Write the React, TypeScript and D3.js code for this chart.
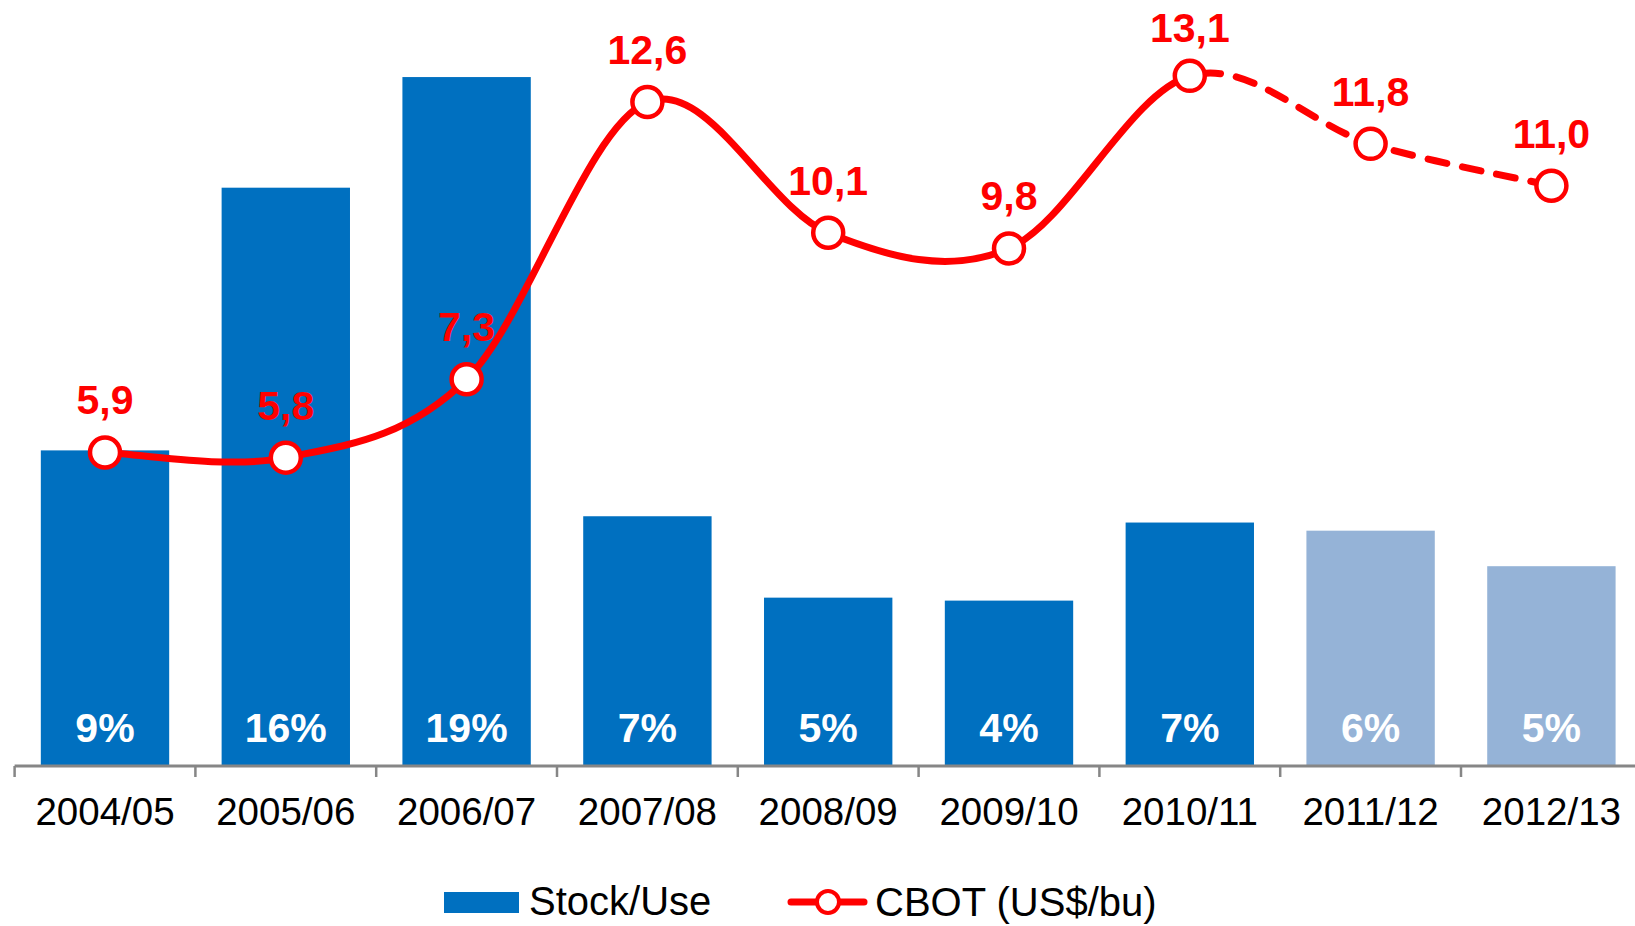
import React from "react";
import * as d3 from "d3";

const categories = ["2004/05", "2005/06", "2006/07", "2007/08", "2008/09", "2009/10", "2010/11", "2011/12", "2012/13"];
const stockUse = [8.53, 15.63, 18.62, 6.75, 4.55, 4.47, 6.58, 6.36, 5.4];
const cbot = [5.9, 5.8, 7.3, 12.6, 10.1, 9.8, 13.1, 11.8, 11.0];
const projected = [false, false, false, false, false, false, false, true, true];
const legendLabels = ["Stock/Use", "CBOT (US$/bu)"];

const W = 1635;
const H = 926;
const FONT = "'Liberation Sans', Arial, Helvetica, sans-serif";
const BLUE = "#0070C0";
const LIGHT = "#95B3D7";
const RED = "#FF0000";

export default function App() {
  const left = 14.6;
  const step = 180.8;
  const axisY = 766;

  const x = d3
    .scaleBand<string>()
    .domain(categories)
    .range([left, left + step * categories.length])
    .paddingInner(0.29)
    .paddingOuter(0.145);

  const yBar = d3.scaleLinear().domain([0, 20]).range([axisY, axisY - 20 * 37.0]);
  const yLine = d3.scaleLinear().domain([0, 14]).range([761, 761 - 14 * 52.3]);

  const cx = (i: number) => (x(categories[i]) as number) + x.bandwidth() / 2;
  const pts: [number, number][] = cbot.map((v, i) => [cx(i), yLine(v)]);

  // Catmull-Rom (cardinal, tension 0) segments, built from the full point list
  const segPath = (from: number, to: number) => {
    const p = d3.path();
    const n = pts.length;
    const P = (k: number) => pts[Math.max(0, Math.min(n - 1, k))];
    p.moveTo(pts[from][0], pts[from][1]);
    for (let i = from; i < to; i++) {
      const p0 = P(i - 1), p1 = P(i), p2 = P(i + 1), p3 = P(i + 2);
      p.bezierCurveTo(
        p1[0] + (p2[0] - p0[0]) / 6,
        p1[1] + (p2[1] - p0[1]) / 6,
        p2[0] - (p3[0] - p1[0]) / 6,
        p2[1] - (p3[1] - p1[1]) / 6,
        p2[0],
        p2[1]
      );
    }
    return p.toString();
  };

  const firstProj = projected.indexOf(true);
  const solidEnd = firstProj - 1;

  const tickXs = d3.range(categories.length + 1).map((i) => left + i * step);

  return (
    <svg
      width={W}
      height={H}
      style={{ position: "absolute", left: 0, top: 0, background: "#fff" }}
      fontFamily={FONT}
    >
      <rect x={0} y={0} width={W} height={H} fill="#fff" />
      {/* bars */}
      {stockUse.map((v, i) => (
        <rect
          key={"b" + i}
          x={x(categories[i])}
          y={yBar(v)}
          width={x.bandwidth()}
          height={axisY - yBar(v)}
          fill={projected[i] ? LIGHT : BLUE}
        />
      ))}
      {/* bar labels */}
      {stockUse.map((v, i) => (
        <text
          key={"bl" + i}
          x={cx(i)}
          y={742}
          textAnchor="middle"
          fontSize={41}
          fontWeight="bold"
          fill="#fff"
        >
          {Math.round(v) + "%"}
        </text>
      ))}
      {/* axis */}
      <line x1={left} x2={W} y1={axisY} y2={axisY} stroke="#868686" strokeWidth={3} />
      {tickXs.map((tx, i) => (
        <line key={"t" + i} x1={tx} x2={tx} y1={axisY} y2={axisY + 11} stroke="#868686" strokeWidth={2.5} />
      ))}
      {categories.map((c, i) => (
        <text key={"xl" + i} x={cx(i)} y={825} textAnchor="middle" fontSize={38.5} fill="#000">
          {c}
        </text>
      ))}
      {/* line */}
      <path d={segPath(0, solidEnd)} fill="none" stroke={RED} strokeWidth={7} strokeLinecap="round" />
      <path
        d={segPath(solidEnd, pts.length - 1)}
        fill="none"
        stroke={RED}
        strokeWidth={7}
        strokeLinecap="round"
        strokeDasharray="19 16"
        strokeDashoffset={-12}
      />
      {pts.map((p, i) => (
        <circle key={"m" + i} cx={p[0]} cy={p[1]} r={15} fill="#fff" stroke={RED} strokeWidth={4.5} />
      ))}
      {cbot.map((v, i) => (
        <text
          key={"ll" + i}
          x={pts[i][0]}
          y={Math.max(pts[i][1] - 38, 42)}
          textAnchor="middle"
          fontSize={41}
          fontWeight="bold"
          fill={RED}
        >
          {v.toFixed(1).replace(".", ",")}
        </text>
      ))}
      {/* legend */}
      <rect x={444} y={892} width={75} height={21} fill={BLUE} />
      <text x={529} y={915} fontSize={40} fill="#000">
        {legendLabels[0]}
      </text>
      <line x1={791} x2={864} y1={902} y2={902} stroke={RED} strokeWidth={7} strokeLinecap="round" />
      <circle cx={828} cy={902} r={11} fill="#fff" stroke={RED} strokeWidth={4} />
      <text x={875} y={916} fontSize={40} fill="#000">
        {legendLabels[1]}
      </text>
    </svg>
  );
}
